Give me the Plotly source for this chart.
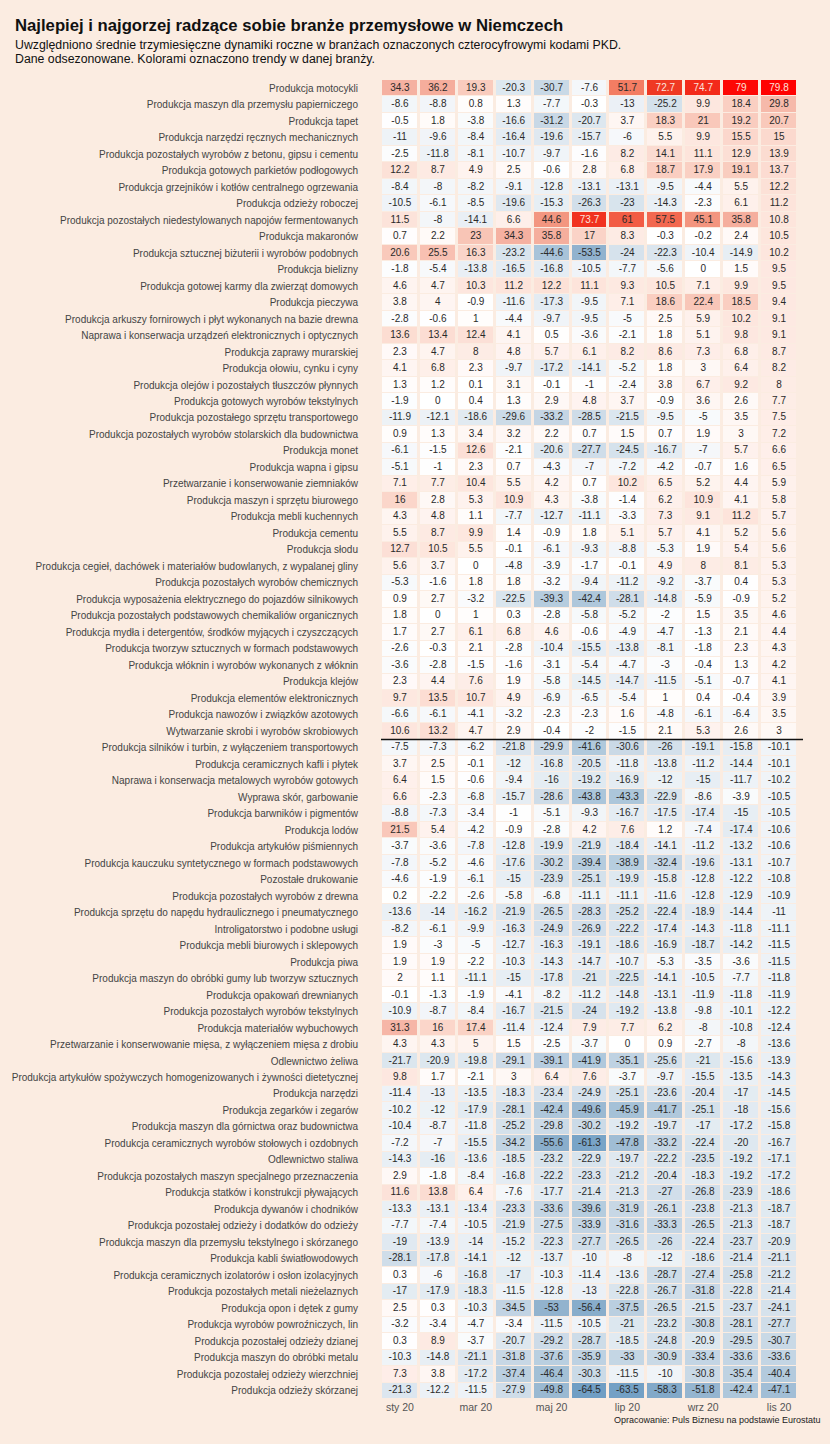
import plotly.graph_objects as go

industries = [
    "Produkcja motocykli",
    "Produkcja maszyn dla przemysłu papierniczego",
    "Produkcja tapet",
    "Produkcja narzędzi ręcznych mechanicznych",
    "Produkcja pozostałych wyrobów z betonu, gipsu i cementu",
    "Produkcja gotowych parkietów podłogowych",
    "Produkcja grzejników i kotłów centralnego ogrzewania",
    "Produkcja odzieży roboczej",
    "Produkcja pozostałych niedestylowanych napojów fermentowanych",
    "Produkcja makaronów",
    "Produkcja sztucznej biżuterii i wyrobów podobnych",
    "Produkcja bielizny",
    "Produkcja gotowej karmy dla zwierząt domowych",
    "Produkcja pieczywa",
    "Produkcja arkuszy fornirowych i płyt wykonanych na bazie drewna",
    "Naprawa i konserwacja urządzeń elektronicznych i optycznych",
    "Produkcja zaprawy murarskiej",
    "Produkcja ołowiu, cynku i cyny",
    "Produkcja olejów i pozostałych tłuszczów płynnych",
    "Produkcja gotowych wyrobów tekstylnych",
    "Produkcja pozostałego sprzętu transportowego",
    "Produkcja pozostałych wyrobów stolarskich dla budownictwa",
    "Produkcja monet",
    "Produkcja wapna i gipsu",
    "Przetwarzanie i konserwowanie ziemniaków",
    "Produkcja maszyn i sprzętu biurowego",
    "Produkcja mebli kuchennych",
    "Produkcja cementu",
    "Produkcja słodu",
    "Produkcja cegieł, dachówek i materiałów budowlanych, z wypalanej gliny",
    "Produkcja pozostałych wyrobów chemicznych",
    "Produkcja wyposażenia elektrycznego do pojazdów silnikowych",
    "Produkcja pozostałych podstawowych chemikaliów organicznych",
    "Produkcja mydła i detergentów, środków myjących i czyszczących",
    "Produkcja tworzyw sztucznych w formach podstawowych",
    "Produkcja włóknin i wyrobów wykonanych z włóknin",
    "Produkcja klejów",
    "Produkcja elementów elektronicznych",
    "Produkcja nawozów i związków azotowych",
    "Wytwarzanie skrobi i wyrobów skrobiowych",
    "Produkcja silników i turbin, z wyłączeniem transportowych",
    "Produkcja ceramicznych kafli i płytek",
    "Naprawa i konserwacja metalowych wyrobów gotowych",
    "Wyprawa skór, garbowanie",
    "Produkcja barwników i pigmentów",
    "Produkcja lodów",
    "Produkcja artykułów piśmiennych",
    "Produkcja kauczuku syntetycznego w formach podstawowych",
    "Pozostałe drukowanie",
    "Produkcja pozostałych wyrobów z drewna",
    "Produkcja sprzętu do napędu hydraulicznego i pneumatycznego",
    "Introligatorstwo i podobne usługi",
    "Produkcja mebli biurowych i sklepowych",
    "Produkcja piwa",
    "Produkcja maszyn do obróbki gumy lub tworzyw sztucznych",
    "Produkcja opakowań drewnianych",
    "Produkcja pozostałych wyrobów tekstylnych",
    "Produkcja materiałów wybuchowych",
    "Przetwarzanie i konserwowanie mięsa, z wyłączeniem mięsa z drobiu",
    "Odlewnictwo żeliwa",
    "Produkcja artykułów spożywczych homogenizowanych i żywności dietetycznej",
    "Produkcja narzędzi",
    "Produkcja zegarków i zegarów",
    "Produkcja maszyn dla górnictwa oraz budownictwa",
    "Produkcja ceramicznych wyrobów stołowych i ozdobnych",
    "Odlewnictwo staliwa",
    "Produkcja pozostałych maszyn specjalnego przeznaczenia",
    "Produkcja statków i konstrukcji pływających",
    "Produkcja dywanów i chodników",
    "Produkcja pozostałej odzieży i dodatków do odzieży",
    "Produkcja maszyn dla przemysłu tekstylnego i skórzanego",
    "Produkcja kabli światłowodowych",
    "Produkcja ceramicznych izolatorów i osłon izolacyjnych",
    "Produkcja pozostałych metali nieżelaznych",
    "Produkcja opon i dętek z gumy",
    "Produkcja wyrobów powroźniczych, lin",
    "Produkcja pozostałej odzieży dzianej",
    "Produkcja maszyn do obróbki metalu",
    "Produkcja pozostałej odzieży wierzchniej",
    "Produkcja odzieży skórzanej",
]

months = ["sty 20", "lut 20", "mar 20", "kwi 20", "maj 20", "cze 20",
          "lip 20", "sie 20", "wrz 20", "paź 20", "lis 20"]
month_ticks = ["sty 20", "mar 20", "maj 20", "lip 20", "wrz 20", "lis 20"]

sty = [34.3, -8.6, -0.5, -11, -2.5, 12.2, -8.4, -10.5, 11.5, 0.7,
       20.6, -1.8, 4.6, 3.8, -2.8, 13.6, 2.3, 4.1, 1.3, -1.9,
       -11.9, 0.9, -6.1, -5.1, 7.1, 16, 4.3, 5.5, 12.7, 5.6,
       -5.3, 0.9, 1.8, 1.7, -2.6, -3.6, 2.3, 9.7, -6.6, 10.6,
       -7.5, 3.7, 6.4, 6.6, -8.8, 21.5, -3.7, -7.8, -4.6, 0.2,
       -13.6, -8.2, 1.9, 1.9, 2, -0.1, -10.9, 31.3, 4.3, -21.7,
       9.8, -11.4, -10.2, -10.4, -7.2, -14.3, 2.9, 11.6, -13.3, -7.7,
       -19, -28.1, 0.3, -17, 2.5, -3.2, 0.3, -10.3, 7.3, -21.3]
lut = [36.2, -8.8, 1.8, -9.6, -11.8, 8.7, -8, -6.1, -8, 2.2,
       25.5, -5.4, 4.7, 4, -0.6, 13.4, 4.7, 6.8, 1.2, 0,
       -12.1, 1.3, -1.5, -1, 7.7, 2.8, 4.8, 8.7, 10.5, 3.7,
       -1.6, 2.7, 0, 2.7, -0.3, -2.8, 4.4, 13.5, -6.1, 13.2,
       -7.3, 2.5, 1.5, -2.3, -7.3, 5.4, -3.6, -5.2, -1.9, -2.2,
       -14, -6.1, -3, 1.9, 1.1, -1.3, -8.7, 16, 4.3, -20.9,
       1.7, -13, -12, -8.7, -7, -16, -1.8, 13.8, -13.1, -7.4,
       -13.9, -17.8, -6, -17.9, 0.3, -3.4, 8.9, -14.8, 3.8, -12.2]
mar = [19.3, 0.8, -3.8, -8.4, -8.1, 4.9, -8.2, -8.5, -14.1, 23,
       16.3, -13.8, 10.3, -0.9, 1, 12.4, 8, 2.3, 0.1, 0.4,
       -18.6, 3.4, 12.6, 2.3, 10.4, 5.3, 1.1, 9.9, 5.5, 0,
       1.8, -3.2, 1, 6.1, 2.1, -1.5, 7.6, 10.7, -4.1, 4.7,
       -6.2, -0.1, -0.6, -6.8, -3.4, -4.2, -7.8, -4.6, -6.1, -2.6,
       -16.2, -9.9, -5, -2.2, -11.1, -1.9, -8.4, 17.4, 5, -19.8,
       -2.1, -13.5, -17.9, -11.8, -15.5, -13.6, -8.4, 6.4, -13.4, -10.5,
       -14, -14.1, -16.8, -18.3, -10.3, -4.7, -3.7, -21.1, -17.2, -11.5]
kwi = [-20.3, 1.3, -16.6, -16.4, -10.7, 2.5, -9.1, -19.6, 6.6, 34.3,
       -23.2, -16.5, 11.2, -11.6, -4.4, 4.1, 4.8, -9.7, 3.1, 1.3,
       -29.6, 3.2, -2.1, 0.7, 5.5, 10.9, -7.7, 1.4, -0.1, -4.8,
       1.8, -22.5, 0.3, 6.8, -2.8, -1.6, 1.9, 4.9, -3.2, 2.9,
       -21.8, -12, -9.4, -15.7, -1, -0.9, -12.8, -17.6, -15, -5.8,
       -21.9, -16.3, -12.7, -10.3, -15, -4.1, -16.7, -11.4, 1.5, -29.1,
       3, -18.3, -28.1, -25.2, -34.2, -18.5, -16.8, -7.6, -23.3, -21.9,
       -15.2, -12, -17, -11.5, -34.5, -3.4, -20.7, -31.8, -37.4, -27.9]
maj = [-30.7, -7.7, -31.2, -19.6, -9.7, -0.6, -12.8, -15.3, 44.6, 35.8,
       -44.6, -16.8, 12.2, -17.3, -9.7, 0.5, 5.7, -17.2, -0.1, 2.9,
       -33.2, 2.2, -20.6, -4.3, 4.2, 4.3, -12.7, -0.9, -6.1, -3.9,
       -3.2, -39.3, -2.8, 4.6, -10.4, -3.1, -5.8, -6.9, -2.3, -0.4,
       -29.9, -16.8, -16, -28.6, -5.1, -2.8, -19.9, -30.2, -23.9, -6.8,
       -26.5, -24.9, -16.3, -14.3, -17.8, -8.2, -21.5, -12.4, -2.5, -39.1,
       6.4, -23.4, -42.4, -29.8, -55.6, -23.2, -22.2, -17.7, -33.6, -27.5,
       -22.3, -13.7, -10.3, -12.8, -53, -11.5, -29.2, -37.6, -46.4, -49.8]
cze = [-7.6, -0.3, -20.7, -15.7, -1.6, 2.8, -13.1, -26.3, 73.7, 17,
       -53.5, -10.5, 11.1, -9.5, -9.5, -3.6, 6.1, -14.1, -1, 4.8,
       -28.5, 0.7, -27.7, -7, 0.7, -3.8, -11.1, 1.8, -9.3, -1.7,
       -9.4, -42.4, -5.8, -0.6, -15.5, -5.4, -14.5, -6.5, -2.3, -2,
       -41.6, -20.5, -19.2, -43.8, -9.3, 4.2, -21.9, -39.4, -25.1, -11.1,
       -28.3, -26.9, -19.1, -14.7, -21, -11.2, -24, 7.9, -3.7, -41.9,
       7.6, -24.9, -49.6, -30.2, -61.3, -22.9, -23.3, -21.4, -39.6, -33.9,
       -27.7, -10, -11.4, -13, -56.4, -10.5, -28.7, -35.9, -30.3, -64.5]
lip = [51.7, -13, 3.7, -6, 8.2, 6.8, -13.1, -23, 61, 8.3,
       -24, -7.7, 9.3, 7.1, -5, -2.1, 8.2, -5.2, -2.4, 3.7,
       -21.5, 1.5, -24.5, -7.2, 10.2, -1.4, -3.3, 5.1, -8.8, -0.1,
       -11.2, -28.1, -5.2, -4.9, -13.8, -4.7, -14.7, -5.4, 1.6, -1.5,
       -30.6, -11.8, -16.9, -43.3, -16.7, 7.6, -18.4, -38.9, -19.9, -11.1,
       -25.2, -22.2, -18.6, -10.7, -22.5, -14.8, -19.2, 7.7, 0, -35.1,
       -3.7, -25.1, -45.9, -19.2, -47.8, -19.7, -21.2, -21.3, -31.9, -31.6,
       -26.5, -8, -13.6, -22.8, -37.5, -21, -18.5, -33, -11.5, -63.5]
sie = [72.7, -25.2, 18.3, 5.5, 14.1, 18.7, -9.5, -14.3, 57.5, -0.3,
       -22.3, -5.6, 10.5, 18.6, 2.5, 1.8, 8.6, 1.8, 3.8, -0.9,
       -9.5, 0.7, -16.7, -4.2, 6.5, 6.2, 7.3, 5.7, -5.3, 4.9,
       -9.2, -14.8, -2, -4.7, -8.1, -3, -11.5, 1, -4.8, 2.1,
       -26, -13.8, -12, -22.9, -17.5, 1.2, -14.1, -32.4, -15.8, -11.6,
       -22.4, -17.4, -16.9, -5.3, -14.1, -13.1, -13.8, 6.2, 0.9, -25.6,
       -9.7, -23.6, -41.7, -19.7, -33.2, -22.2, -20.4, -27, -26.1, -33.3,
       -26, -12, -28.7, -26.7, -26.5, -23.2, -24.8, -30.9, -10, -58.3]
wrz = [74.7, 9.9, 21, 9.9, 11.1, 17.9, -4.4, -2.3, 45.1, -0.2,
       -10.4, 0, 7.1, 22.4, 5.9, 5.1, 7.3, 3, 6.7, 3.6,
       -5, 1.9, -7, -0.7, 5.2, 10.9, 9.1, 4.1, 1.9, 8,
       -3.7, -5.9, 1.5, -1.3, -1.8, -0.4, -5.1, 0.4, -6.1, 5.3,
       -19.1, -11.2, -15, -8.6, -17.4, -7.4, -11.2, -19.6, -12.8, -12.8,
       -18.9, -14.3, -18.7, -3.5, -10.5, -11.9, -9.8, -8, -2.7, -21,
       -15.5, -20.4, -25.1, -17, -22.4, -23.5, -18.3, -26.8, -23.8, -26.5,
       -22.4, -18.6, -27.4, -31.8, -21.5, -30.8, -20.9, -33.4, -30.8, -51.8]
paz = [79, 18.4, 19.2, 15.5, 12.9, 19.1, 5.5, 6.1, 35.8, 2.4,
       -14.9, 1.5, 9.9, 18.5, 10.2, 9.8, 6.8, 6.4, 9.2, 2.6,
       3.5, 3, 5.7, 1.6, 4.4, 4.1, 11.2, 5.2, 5.4, 8.1,
       0.4, -0.9, 3.5, 2.1, 2.3, 1.3, -0.7, -0.4, -6.4, 2.6,
       -15.8, -14.4, -11.7, -3.9, -15, -17.4, -13.2, -13.1, -12.2, -12.9,
       -14.4, -11.8, -14.2, -3.6, -7.7, -11.8, -10.1, -10.8, -8, -15.6,
       -13.5, -17, -18, -17.2, -20, -19.2, -19.2, -23.9, -21.3, -21.3,
       -23.7, -21.4, -25.8, -22.8, -23.7, -28.1, -29.5, -33.6, -35.4, -42.4]
lis = [79.8, 29.8, 20.7, 15, 13.9, 13.7, 12.2, 11.2, 10.8, 10.5,
       10.2, 9.5, 9.5, 9.4, 9.1, 9.1, 8.7, 8.2, 8, 7.7,
       7.5, 7.2, 6.6, 6.5, 5.9, 5.8, 5.7, 5.6, 5.6, 5.3,
       5.3, 5.2, 4.6, 4.4, 4.3, 4.2, 4.1, 3.9, 3.5, 3,
       -10.1, -10.1, -10.2, -10.5, -10.5, -10.6, -10.6, -10.7, -10.8, -10.9,
       -11, -11.1, -11.5, -11.5, -11.8, -11.9, -12.2, -12.4, -13.6, -13.9,
       -14.3, -14.5, -15.6, -15.8, -16.7, -17.1, -17.2, -18.6, -18.7, -18.7,
       -20.9, -21.1, -21.2, -21.4, -24.1, -27.7, -30.7, -33.6, -40.4, -47.1]

columns = [sty, lut, mar, kwi, maj, cze, lip, sie, wrz, paz, lis]
z = [[col[i] for col in columns] for i in range(len(industries))]

# text labels drawn as a scatter on the same category axes
tx, ty, tt, tc = [], [], [], []
for i, name in enumerate(industries):
    for j, m in enumerate(months):
        v = z[i][j]
        tx.append(m)
        ty.append(name)
        tt.append(f"{v:g}")
        tc.append("#fbe3dc" if v > 65 else "#2a2a2a")

BG = "#fbece1"
FONT = "Liberation Sans, Arial, sans-serif"

colorscale = [
    [0.0, "#5d8ebb"],
    [0.0969, "#709ec4"],
    [0.16875, "#92b3ce"],
    [0.2375, "#afc8dc"],
    [0.3125, "#cbdae7"],
    [0.375, "#dee8f0"],
    [0.4375, "#f0f4f8"],
    [0.5, "#ffffff"],
    [0.5625, "#fde7df"],
    [0.625, "#f9cabc"],
    [0.71875, "#f5b0a0"],
    [0.78125, "#f3957f"],
    [0.825, "#f37c62"],
    [0.88125, "#f25c44"],
    [0.95625, "#ef3822"],
    [1.0, "#ff0000"],
]

fig = go.Figure()
fig.add_trace(go.Heatmap(
    z=z, x=months, y=industries,
    colorscale=colorscale, zmin=-80, zmax=80,
    showscale=False, xgap=3, ygap=1, hoverinfo="skip",
))
fig.add_trace(go.Scatter(
    x=tx, y=ty, text=tt, mode="text",
    textfont=dict(size=10, color=tc, family=FONT),
    hoverinfo="skip", showlegend=False, cliponaxis=False,
))

W, H = 830, 1444
ml, mr, mt, mb = 378, 32, 80, 45
pw, ph = W - ml - mr, H - mt - mb
n = len(industries)


def px_x(x):
    return (x - ml) / pw


def px_y(y):
    return 1 + (mt - y) / ph


fig.update_layout(
    width=W, height=H,
    margin=dict(l=ml, r=mr, t=mt, b=mb),
    paper_bgcolor=BG, plot_bgcolor=BG,
    font=dict(family=FONT, color="#333333"),
    showlegend=False,
    xaxis=dict(categoryorder="array", categoryarray=months,
               tickvals=month_ticks, ticks="", showgrid=False, zeroline=False,
               tickfont=dict(size=10.5, color="#555555"), fixedrange=True,
               range=[-0.5, len(months) - 0.5], autorange=False),
    yaxis=dict(categoryorder="array", categoryarray=industries,
               range=[n - 0.5, -0.5], autorange=False,
               ticks="", showgrid=False, zeroline=False,
               tickfont=dict(size=10, color="#444444"), ticklabelstandoff=22,
               fixedrange=True),
    shapes=[dict(type="line", xref="paper", yref="y", x0=0, x1=1.012,
                 y0=39.5, y1=39.5, line=dict(color="#111111", width=1.5))],
    annotations=[
        dict(text="<b>Najlepiej i najgorzej radzące sobie branże przemysłowe w Niemczech</b>",
             xref="paper", yref="paper", x=px_x(7), y=px_y(26), xanchor="left", yanchor="middle",
             showarrow=False, font=dict(size=16.7, color="#111111", family=FONT)),
        dict(text="Uwzględniono średnie trzymiesięczne dynamiki roczne w branżach oznaczonych czterocyfrowymi kodami PKD.",
             xref="paper", yref="paper", x=px_x(7), y=px_y(45), xanchor="left", yanchor="middle",
             showarrow=False, font=dict(size=12.3, color="#111111", family=FONT)),
        dict(text="Dane odsezonowane. Kolorami oznaczono trendy w danej branży.",
             xref="paper", yref="paper", x=px_x(7), y=px_y(59), xanchor="left", yanchor="middle",
             showarrow=False, font=dict(size=12.3, color="#111111", family=FONT)),
        dict(text="Opracowanie: Puls Biznesu na podstawie Eurostatu",
             xref="paper", yref="paper", x=px_x(823), y=px_y(1420), xanchor="right", yanchor="middle",
             showarrow=False, font=dict(size=9, color="#222222", family=FONT)),
    ],
)

fig.write_html(
    "out.html",
    config={"displayModeBar": False},
    post_script="document.body.style.margin='0';document.body.style.background='#fbece1';"
                "document.documentElement.style.background='#fbece1';",
)
